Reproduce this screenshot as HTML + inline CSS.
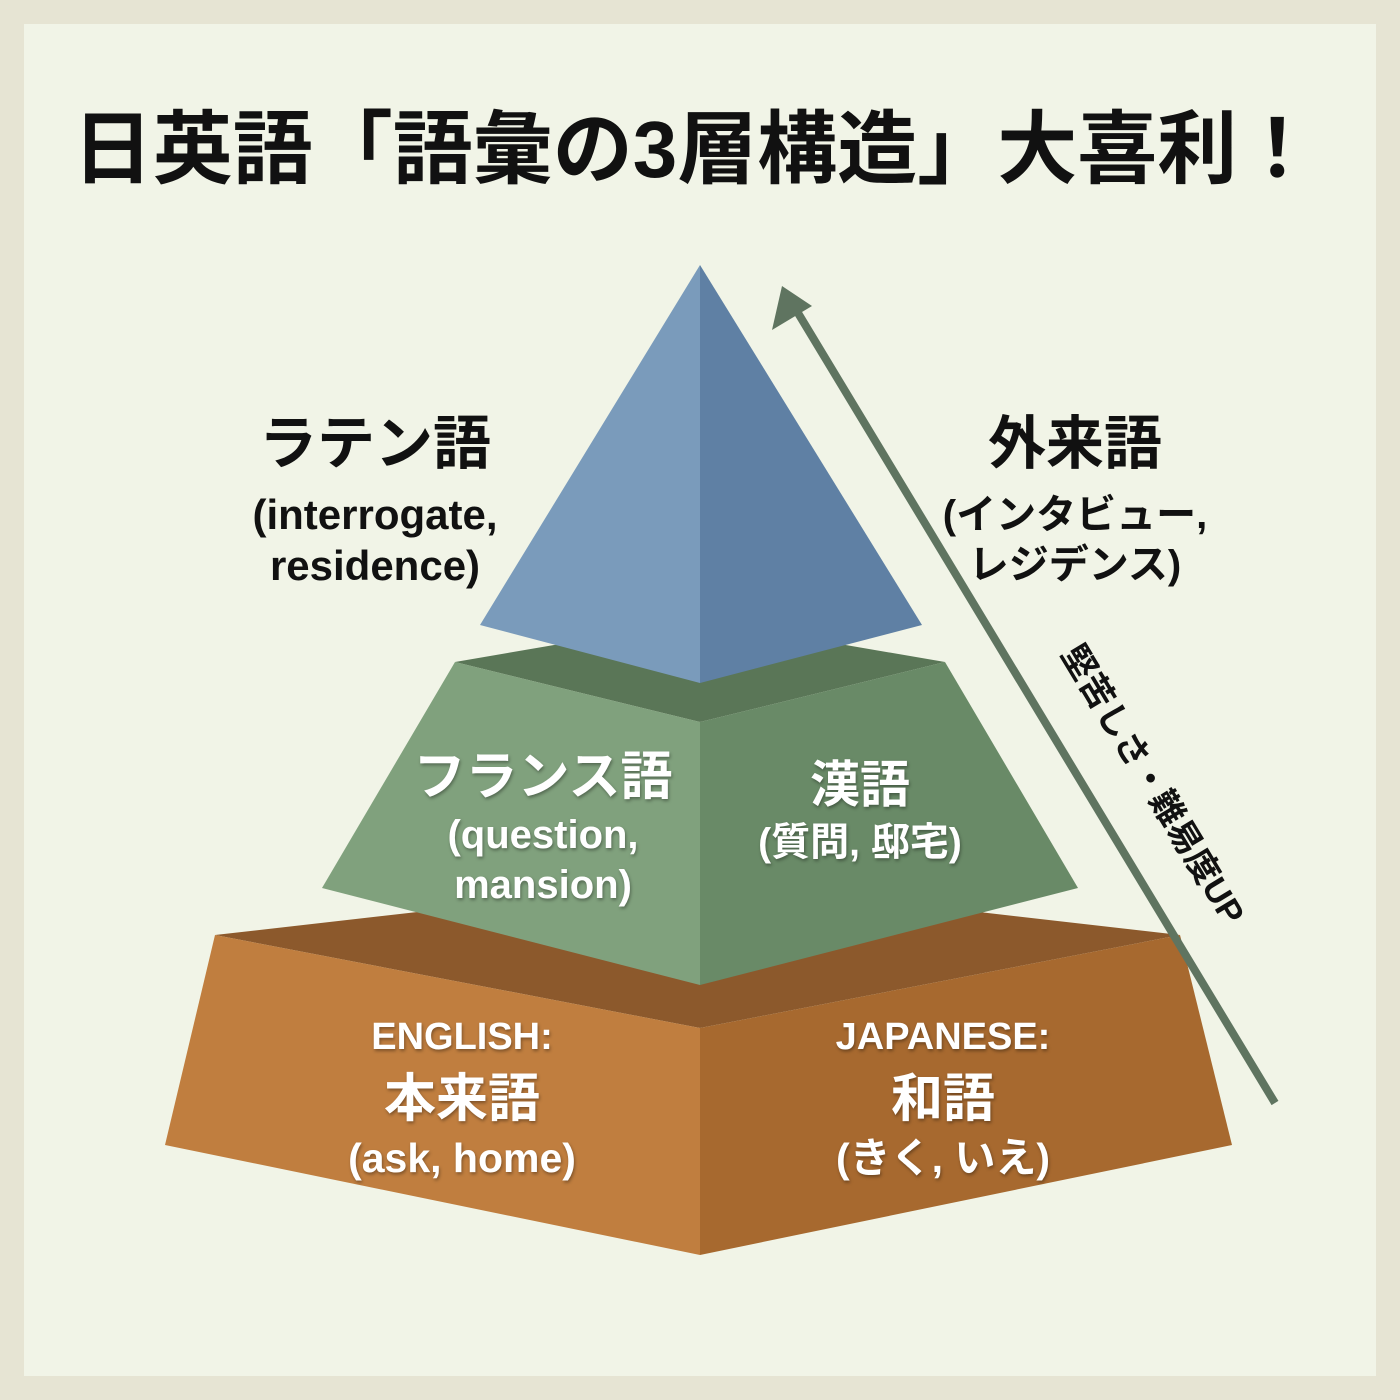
<!DOCTYPE html>
<html><head><meta charset="utf-8"><style>
html,body{margin:0;padding:0}
body{width:1400px;height:1400px;background:#e6e4d3;position:relative;overflow:hidden;font-family:"Liberation Sans","Noto Sans CJK JP",sans-serif}
.panel{position:absolute;left:24px;top:24px;width:1352px;height:1352px;background:#f1f4e7}
.t{position:absolute;text-align:center;font-weight:bold;white-space:nowrap;transform:translate(-50%,-50%);line-height:1.32}
.w{color:#fff;text-shadow:1px 2px 3px rgba(0,0,0,.35)}
</style></head><body>
<div class="panel"></div>
<svg width="1400" height="1400" style="position:absolute;left:0;top:0">
<polygon points="215,935 700,880 1180,935 700,1028" fill="#8c592c"/>
<polygon points="215,935 700,1028 700,1255 165,1145" fill="#c07e3f"/>
<polygon points="700,1028 1180,935 1232,1145 700,1255" fill="#a7692f"/>
<polygon points="455,662 700,620 945,662 700,722" fill="#5a7657"/>
<polygon points="455,662 700,722 700,985 322,888" fill="#80a17d"/>
<polygon points="700,722 945,662 1078,888 700,985" fill="#698a67"/>
<polygon points="700,265 700,683 480,625" fill="#7a9bbb"/>
<polygon points="700,265 922,625 700,683" fill="#5f80a4"/>
<line x1="1275" y1="1103" x2="798" y2="313" stroke="#5f7460" stroke-width="8"/>
<polygon points="782,286 772,330 812,306" fill="#5f7460"/>
</svg>
<div class="t" style="left:695px;top:150px;font-size:80px;color:#111">日英語「語彙の3層構造」大喜利！</div>
<div class="t" style="left:375px;top:445px;font-size:58px;color:#111">ラテン語</div>
<div class="t" style="left:375px;top:540px;font-size:42px;color:#111;line-height:1.22">(interrogate,<br>residence)</div>
<div class="t" style="left:1075px;top:445px;font-size:58px;color:#111">外来語</div>
<div class="t" style="left:1075px;top:540px;font-size:40px;color:#111;line-height:1.25">(インタビュー,<br>レジデンス)</div>
<div class="t w" style="left:543px;top:778px;font-size:52px">フランス語</div>
<div class="t w" style="left:543px;top:860px;font-size:40px;line-height:1.25">(question,<br>mansion)</div>
<div class="t w" style="left:860px;top:785px;font-size:50px">漢語</div>
<div class="t w" style="left:860px;top:843px;font-size:39px">(質問, 邸宅)</div>
<div class="t w" style="left:462px;top:1037px;font-size:38px">ENGLISH:</div>
<div class="t w" style="left:462px;top:1100px;font-size:52px">本来語</div>
<div class="t w" style="left:462px;top:1158px;font-size:41px">(ask, home)</div>
<div class="t w" style="left:943px;top:1037px;font-size:38px">JAPANESE:</div>
<div class="t w" style="left:943px;top:1100px;font-size:52px">和語</div>
<div class="t w" style="left:943px;top:1158px;font-size:41px">(きく, いえ)</div>
<div class="t" style="left:1152px;top:785px;font-size:34px;color:#111;transform:translate(-50%,-50%) rotate(58.9deg)">堅苦しさ・難易度UP</div>
</body></html>
